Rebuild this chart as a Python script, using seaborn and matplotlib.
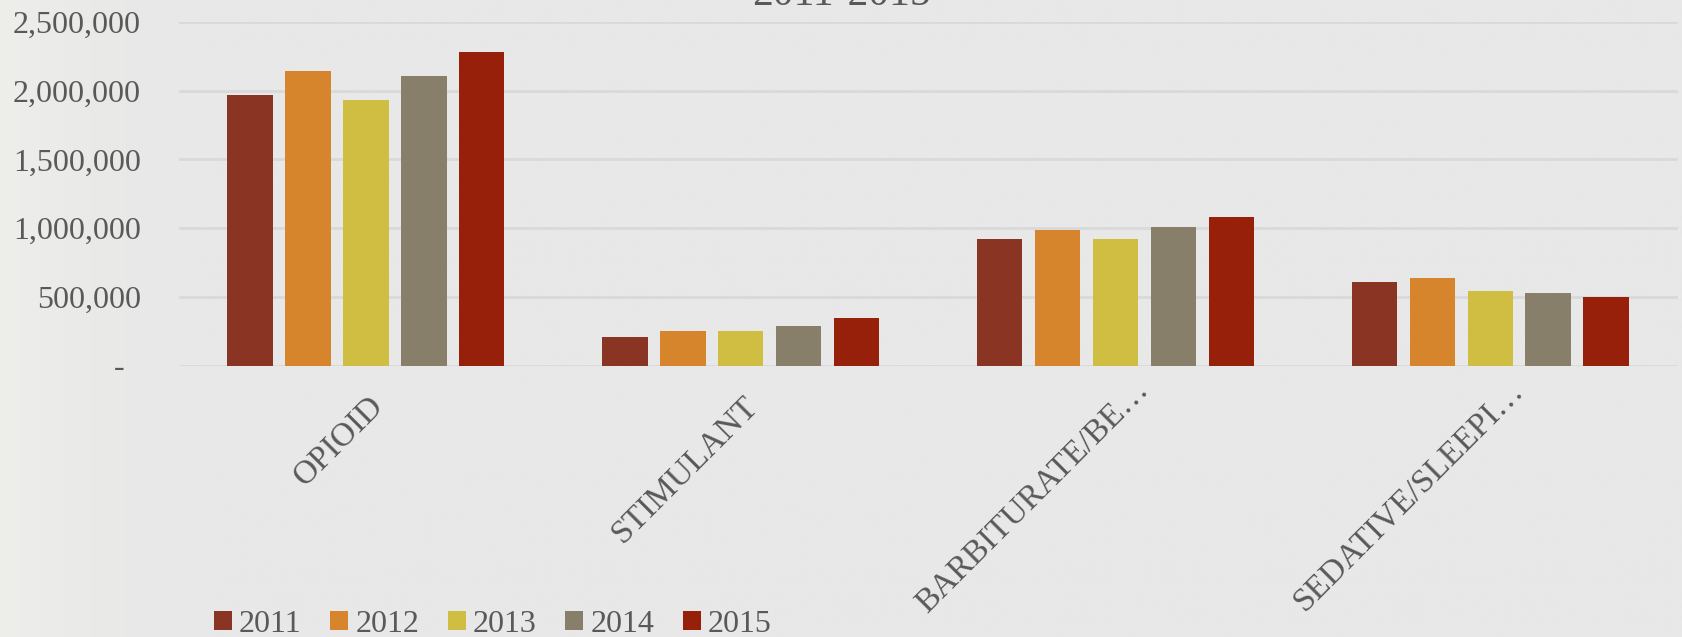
import numpy as np
import pandas as pd
import matplotlib
matplotlib.use("Agg")
import matplotlib.pyplot as plt
import matplotlib.transforms as mtransforms
from matplotlib.patches import Patch
import seaborn as sns

# Data
categories = ["OPIOID", "STIMULANT", "BARBITURATE/BE…", "SEDATIVE/SLEEPI…"]
years = ["2011", "2012", "2013", "2014", "2015"]
vals_2011 = [1971000, 208000, 924000, 607000]
vals_2012 = [2143000, 250000, 986000, 639000]
vals_2013 = [1932000, 254000, 924000, 540000]
vals_2014 = [2107000, 291000, 1010000, 525000]
vals_2015 = [2281000, 346000, 1078000, 496000]
colors = ["#8A3424", "#D6852D", "#D0BE42", "#887F6A", "#97200B"]
title = "2011-2015"

rows = []
for yr, vals in zip(years, [vals_2011, vals_2012, vals_2013, vals_2014, vals_2015]):
    for cat, v in zip(categories, vals):
        rows.append({"category": cat, "year": yr, "value": v})
df = pd.DataFrame(rows)

sns.set_style("white")
plt.rcParams["font.family"] = ["Liberation Serif", "DejaVu Serif"]
text_col = "#595959"

W, H = 1683, 637
fig = plt.figure(figsize=(W / 100, H / 100), dpi=100)
fig.patch.set_facecolor("#E8E8E8")

# soft lighter band on the left like the textured background
bg = fig.add_axes([0, 0, 1, 1], zorder=-10)
grad = np.clip(1 - np.linspace(0, 1, 600) * 8, 0, 1) ** 2
bg.imshow(np.tile(grad, (2, 1)), aspect="auto", cmap=matplotlib.colors.LinearSegmentedColormap.from_list(
    "bgc", ["#E8E8E8", "#EEEEEB"]), extent=[0, 1, 0, 1])
bg.axis("off")

ax = fig.add_axes([178.6 / W, (H - 365.5) / H, 1499 / W, 343.5 / H])
ax.patch.set_alpha(0)

sns.barplot(data=df, x="category", y="value", hue="year", order=categories,
            hue_order=years, palette=colors, saturation=1, width=0.7725, gap=0.216,
            linewidth=0, legend=False, ax=ax)

ax.set_ylim(0, 2500000)
ax.set_xlim(-0.5, 3.5)
ax.set_yticks([0, 500000, 1000000, 1500000, 2000000, 2500000])
ax.yaxis.set_major_formatter(matplotlib.ticker.FuncFormatter(
    lambda v, p: f"{v:,.0f}" if v else "-  "))
ax.tick_params(axis="y", length=0, pad=27, labelsize=23, labelcolor=text_col)
ax.yaxis.grid(True, color="#D9D9D9", linewidth=2)
ax.set_axisbelow(True)
for s in ax.spines.values():
    s.set_visible(False)
ax.set_xlabel("")
ax.set_ylabel("")
ax.set_xticks(range(len(categories)))
ax.set_xticklabels([])
ax.tick_params(axis="x", length=0)

# rotated category labels, truncated ones shifted by the ellipsis width
for i, cat in enumerate(categories):
    shift = 0.16 if cat.endswith("…") else 0.0
    tr = ax.get_xaxis_transform() + mtransforms.ScaledTranslation(
        shift + 0.02, -0.25 + shift, fig.dpi_scale_trans)
    ax.text(i, 0, cat, transform=tr, rotation=45, ha="right", va="top",
            rotation_mode="anchor", fontsize=24, color=text_col)

fig.text(0.5, 1 - 5 / H, title, ha="center", va="baseline", fontsize=30, color=text_col)

handles = [Patch(facecolor=c, edgecolor="none", linewidth=0, label=y) for c, y in zip(colors, years)]
fig.legend(handles=handles, loc="lower left", bbox_to_anchor=(214 / W, -0.003), ncol=5,
           frameon=False, fontsize=23, labelcolor=text_col, handlelength=0.56,
           handleheight=0.56, handletextpad=0.22, columnspacing=0.9,
           borderpad=0, borderaxespad=0)

fig.savefig("out.png", dpi=100, facecolor=fig.get_facecolor())
